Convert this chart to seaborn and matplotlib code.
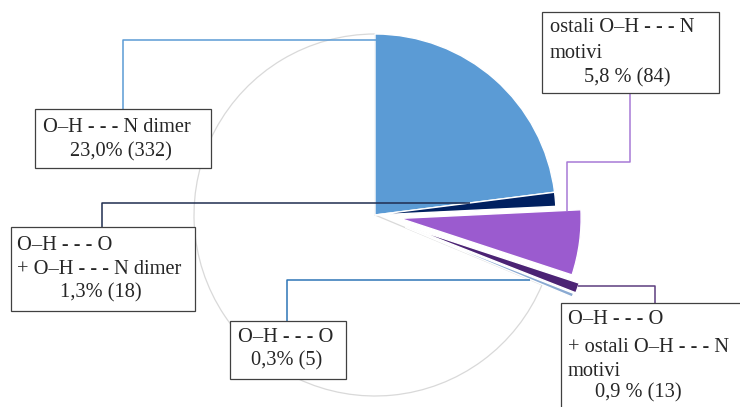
import matplotlib
matplotlib.use("Agg")
import matplotlib.pyplot as plt
from matplotlib.patches import Rectangle
import seaborn as sns

# data
categories = ["O–H - - - N dimer", "O–H - - - O + O–H - - - N dimer", "ostali O–H - - - N motivi",
              "O–H - - - O + ostali O–H - - - N motivi", "O–H - - - O", "ostalo"]
counts = [332, 18, 84, 13, 5, 992]
pct_labels = ["23,0% (332)", "1,3% (18)", "5,8 % (84)", "0,9 % (13)", "0,3% (5)", ""]
name_lines = [["O–H - - - N dimer"],
              ["O–H - - - O", "+ O–H - - - N dimer"],
              ["ostali O–H - - - N", "motivi"],
              ["O–H - - - O", "+ ostali O–H - - - N", "motivi"],
              ["O–H - - - O"],
              []]
slice_colors = ["#5b9bd5", "#002060", "#9b5bcf", "#4b2374", "#8aaad2", "white"]
line_colors = ["#5b9bd5", "#1f2d50", "#a779d6", "#5d3d7e", "#2e75b6", None]
explode = [0, 0, 0.14, 0.19, 0.18, 0]

# pixel layout of the reference
CX, CY, R = 375, 215, 181


def px(x, y):
    return (x - CX) / R, (CY - y) / R


sns.set_style("white")
plt.rcParams["font.family"] = ["Liberation Serif", "DejaVu Serif"]

fig = plt.figure(figsize=(7.4, 4.07), dpi=100)
ax = fig.add_axes([0, 0, 1, 1])

wedges, _ = ax.pie(counts, colors=slice_colors, startangle=90, counterclock=False,
                   explode=explode, radius=1,
                   wedgeprops=dict(edgecolor="white", linewidth=1.0))
wedges[5].set_edgecolor("#d9d9d9")
wedges[5].set_linewidth(0.9)
wedges[5].set_zorder(0)

x0, y0 = px(0, 407)
x1, y1 = px(740, 0)
ax.set_xlim(x0, x1)
ax.set_ylim(y0, y1)
ax.set_aspect("auto")
ax.axis("off")

# label boxes: (left, top, right, bottom), line y centres, alignment of name lines
boxes = [(35, 109, 211, 168), (11, 227, 195, 311), (542, 12, 719, 93),
         (561, 303, 760, 420), (230, 321, 346, 379)]
line_y = [[127, 152], [245, 270, 293], [27, 53, 78], [320, 347, 371, 393], [338, 361]]
name_x = [43, 17, 550, 568, 286]
name_ha = ["left", "left", "left", "left", "center"]
pct_x = [121, 101, 627, 638, 287]
leaders = [[(123, 109), (123, 40), (376, 40)],
           [(102, 227), (102, 203), (470, 203)],
           [(630, 93), (630, 162), (567, 162), (567, 211)],
           [(655, 303), (655, 286), (578, 286)],
           [(287, 321), (287, 280), (530, 280)]]

for i in range(5):
    l, t, r, b = boxes[i]
    bx, by = px(l, b)
    w, h = (r - l) / R, (b - t) / R
    ax.add_patch(Rectangle((bx, by), w, h, facecolor="white", edgecolor="#404040",
                           linewidth=0.9, zorder=5, clip_on=False))
    route = [px(x, y) for x, y in leaders[i]]
    ax.plot([p[0] for p in route], [p[1] for p in route], color=line_colors[i],
            linewidth=1.1, zorder=4, solid_capstyle="butt")
    for j, txt in enumerate(name_lines[i]):
        tx, ty = px(name_x[i], line_y[i][j])
        ax.text(tx, ty, txt, ha=name_ha[i], va="center", fontsize=14.7, zorder=6)
    tx, ty = px(pct_x[i], line_y[i][-1])
    ax.text(tx, ty, pct_labels[i], ha="center", va="center", fontsize=14.7, zorder=6)

fig.savefig("out.png", dpi=100)
